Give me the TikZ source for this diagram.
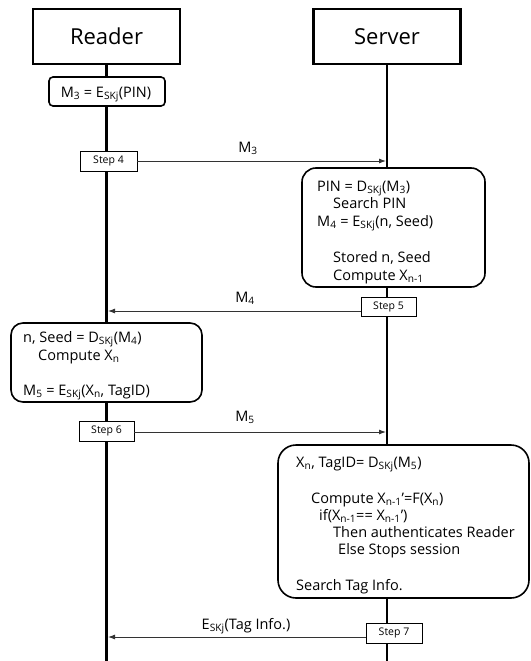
\documentclass[tikz,border=0pt]{standalone}
\usepackage{fontspec}
\setmainfont{Open Sans}
\usetikzlibrary{arrows.meta}
\newcommand\sbs[1]{\textsubscript{#1}}
\tikzset{
  hdr/.style={draw, line width=2.2pt, fill=white, minimum width=147pt, minimum height=55pt, inner sep=0pt, font=\fontsize{22}{26}\selectfont},
  life/.style={line width=2.4pt},
  rbox/.style={draw, line width=1.6pt, fill=white, inner sep=0pt},
  stepbox/.style={draw, line width=0.9pt, fill=white, inner sep=0pt, minimum height=20pt, minimum width=56pt, font=\fontsize{10.5}{12}\selectfont},
  msg/.style={line width=0.9pt, draw=black!80, -{Latex[length=7pt,width=5pt]}},
  txt/.style={anchor=base west, inner sep=0pt},
  lbl/.style={anchor=base, inner sep=0pt}
}
\begin{document}
\begin{tikzpicture}[x=1pt,y=-1pt, font=\fontsize{14.5}{17}\selectfont]
\useasboundingbox (0,0) rectangle (530,661);
% headers
\node[hdr] (rdr) at (106.5,36.5) {Reader};
\node[hdr] (srv) at (387,36.5) {Server};
\coordinate (rdrend) at (106.5,661);
\coordinate (srvend) at (387,661);
\draw[life] (rdr.south) -- (rdrend);
\draw[life] (srv.south) -- (srvend);

% M3 box
\node[rbox, rounded corners=4pt, minimum width=116pt, minimum height=29pt] (m3box) at (107,91.5) {};
\node[lbl] (m3txt) at (106,97) {M\sbs{3} = E\sbs{SKj}(PIN)};

% Step 4
\node[stepbox, minimum width=57pt] (step4) at (108.5,161) {Step 4};
\coordinate (a4e) at (386,161);
\draw[msg] (step4.east) -- (a4e);
\node[lbl] (m3lbl) at (248,152) {M\sbs{3}};

% Server box 1
\node[rbox, rounded corners=14pt, minimum width=183pt, minimum height=119pt] (sbox1) at (393.5,227.5) {};
\node[txt] (s1a) at (317,191) {PIN = D\sbs{SKj}(M\sbs{3})};
\node[txt] (s1b) at (333,208) {Search PIN};
\node[txt] (s1c) at (317,226) {M\sbs{4} = E\sbs{SKj}(n, Seed)};
\node[txt] (s1d) at (333,262) {Stored n, Seed};
\node[txt] (s1e) at (333,280) {Compute X\sbs{n-1}};

% Step 5
\node[stepbox, minimum width=55pt, minimum height=19pt] (step5) at (388.5,306.5) {Step 5};
\coordinate (a5e) at (108,311);
\draw[msg] (step5.west |- a5e) -- (a5e);
\node[lbl] (m4lbl) at (245,302) {M\sbs{4}};

% Reader box 2
\node[rbox, rounded corners=12pt, minimum width=191pt, minimum height=79pt] (rbox2) at (106.5,362.5) {};
\node[txt] (r2a) at (23,342) {n, Seed = D\sbs{SKj}(M\sbs{4})};
\node[txt] (r2b) at (38,360) {Compute X\sbs{n}};
\node[txt] (r2c) at (23,395) {M\sbs{5} = E\sbs{SKj}(X\sbs{n}, TagID)};

% Step 6
\node[stepbox, minimum width=55pt] (step6) at (106.5,431) {Step 6};
\coordinate (a6e) at (386,432);
\draw[msg] (step6.east |- a6e) -- (a6e);
\node[lbl] (m5lbl) at (245,421) {M\sbs{5}};

% Server box 2
\node[rbox, rounded corners=18pt, minimum width=251pt, minimum height=153pt] (sbox2) at (403.5,521.5) {};
\node[txt] (s2a) at (296,467) {X\sbs{n}, TagID= D\sbs{SKj}(M\sbs{5})};
\node[txt] (s2b) at (311,503) {Compute X\sbs{n-1}'=F(X\sbs{n})};
\node[txt] (s2c) at (319,520) {if(X\sbs{n-1}== X\sbs{n-1}')};
\node[txt] (s2d) at (333,537) {Then authenticates Reader};
\node[txt] (s2e) at (338,554) {Else Stops session};
\node[txt] (s2f) at (296,590) {Search Tag Info.};

% Step 7
\node[stepbox, minimum width=56pt] (step7) at (394,633) {Step 7};
\coordinate (a7e) at (108,637);
\draw[msg] (step7.west |- a7e) -- (a7e);
\node[lbl] (elbl) at (246,629) {E\sbs{SKj}(Tag Info.)};
\end{tikzpicture}
\end{document}
